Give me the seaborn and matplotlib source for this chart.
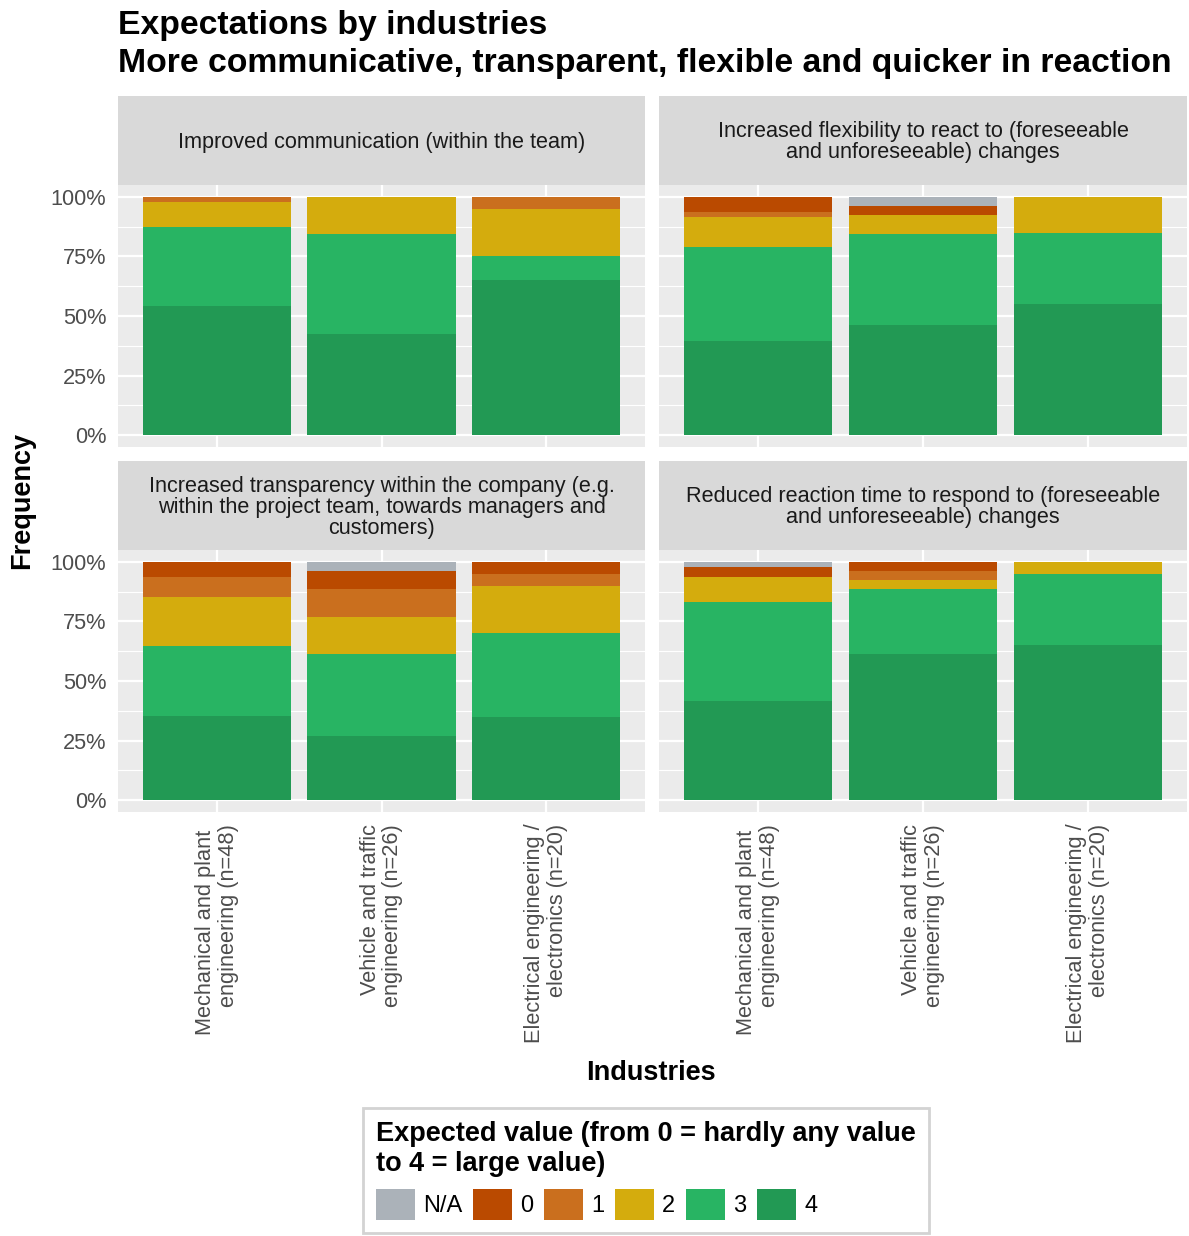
import pandas as pd
import matplotlib.pyplot as plt
import seaborn as sns
from matplotlib.patches import Patch

# ---------------- DATA ----------------
industries = ["Mechanical and plant \nengineering (n=48)",
              "Vehicle and traffic\nengineering (n=26)",
              "Electrical engineering /\nelectronics (n=20)"]
levels = ["N/A", "0", "1", "2", "3", "4"]
colors = ["#ABB2B9", "#BA4A00", "#CA6F1E", "#D4AC0D", "#28B463", "#229954"]

panel_titles = ["Improved communication (within the team)",
                "Increased flexibility to react to (foreseeable\nand unforeseeable) changes",
                "Increased transparency within the company (e.g.\nwithin the project team, towards managers and\ncustomers)",
                "Reduced reaction time to respond to (foreseeable\nand unforeseeable) changes"]

# counts per industry, order N/A,0,1,2,3,4
comm_counts = [[0, 0, 1, 5, 16, 26], [0, 0, 0, 4, 11, 11], [0, 0, 1, 4, 2, 13]]
flex_counts = [[0, 3, 1, 6, 19, 19], [1, 1, 0, 2, 10, 12], [0, 0, 0, 3, 6, 11]]
transp_counts = [[0, 3, 4, 10, 14, 17], [1, 2, 3, 4, 9, 7], [0, 1, 1, 4, 7, 7]]
react_counts = [[1, 2, 0, 5, 20, 20], [0, 1, 1, 1, 7, 16], [0, 0, 0, 1, 6, 13]]
all_counts = [comm_counts, flex_counts, transp_counts, react_counts]

y_ticks = [0, 0.25, 0.5, 0.75, 1.0]
y_ticklabels = ["0%", "25%", "50%", "75%", "100%"]
y_minor = [0.125, 0.375, 0.625, 0.875]

# ---------------- LONG FORMAT ----------------
rows = []
for p, counts in enumerate(all_counts):
    for ind, c in zip(industries, counts):
        tot = sum(c)
        for i, lev in enumerate(levels):
            # cumulative share from bottom (4) up to this level
            rows.append(dict(panel=p, industry=ind, value=lev, count=c[i],
                             cum=sum(c[i:]) / tot))
df = pd.DataFrame(rows)

# ---------------- PLOT ----------------
sns.set_style("white")
plt.rcParams["font.family"] = ["Liberation Sans", "DejaVu Sans"]
W, H = 1189, 1236
fig = plt.figure(figsize=(W / 100, H / 100), dpi=100)

def fx(px): return px / W
def fy(py): return 1 - py / H

cols = [(118, 645), (659, 1187)]
rows_px = [(96, 185, 447), (461, 550, 812)]
palette = dict(zip(levels, colors))

for p in range(4):
    r, c = divmod(p, 2)
    x0, x1 = cols[c]
    s0, s1, b1 = rows_px[r]
    ax = fig.add_axes([fx(x0), fy(b1), fx(x1) - fx(x0), fy(s1) - fy(b1)])
    sax = fig.add_axes([fx(x0), fy(s1), fx(x1) - fx(x0), fy(s0) - fy(s1)])
    sax.set_facecolor("#D9D9D9")
    sax.set_xticks([]); sax.set_yticks([])
    for sp in sax.spines.values():
        sp.set_visible(False)
    sax.text(0.5, 0.48, panel_titles[p], ha="center", va="center",
             fontsize=15.6, color="#1A1A1A", linespacing=1.0, transform=sax.transAxes)

    sub = df[df["panel"] == p]
    sns.barplot(data=sub, x="industry", y="cum", hue="value", hue_order=levels,
                order=industries, palette=palette, dodge=False, width=0.9,
                errorbar=None, saturation=1, linewidth=0, legend=False, ax=ax)
    ax.set_facecolor("#EBEBEB")
    ax.set_axisbelow(True)
    ax.set_xlim(-0.6, 2.6)
    ax.set_ylim(-0.05, 1.05)
    ax.set_yticks(y_ticks)
    ax.set_yticks(y_minor, minor=True)
    ax.grid(which="major", color="white", linewidth=1.6)
    ax.grid(which="minor", axis="y", color="white", linewidth=0.8)
    for sp in ax.spines.values():
        sp.set_visible(False)
    ax.set_xlabel(""); ax.set_ylabel("")
    ax.tick_params(axis="both", which="major", length=5, width=1.3, color="#333333",
                   labelcolor="#4D4D4D", labelsize=15.7)
    ax.tick_params(axis="y", which="minor", length=0)
    if c == 0:
        ax.set_yticklabels(y_ticklabels)
    else:
        ax.tick_params(axis="y", labelleft=False, length=0)
    if r == 1:
        ax.set_xticks(range(3))
        ax.set_xticklabels(industries, rotation=90, ha="center", va="top",
                           multialignment="right", linespacing=1.1)
    else:
        ax.tick_params(axis="x", labelbottom=False, length=0)

fig.text(fx(118), fy(10), "Expectations by industries\nMore communicative, transparent, flexible and quicker in reaction",
         ha="left", va="top", fontsize=24.3, fontweight="bold", linespacing=1.3, color="black")
fig.text(fx(22), fy(500), "Frequency", rotation=90, ha="center", va="center",
         fontsize=19.5, fontweight="bold", color="black")
fig.text(fx(651), fy(1073), "Industries", ha="center", va="center",
         fontsize=19.5, fontweight="bold", color="black")

handles = [Patch(facecolor=col, edgecolor="none", label=lev) for lev, col in zip(levels, colors)]
leg = fig.legend(handles=handles, ncol=6, loc="upper left",
                 bbox_to_anchor=(fx(363), fy(1108)), borderaxespad=0,
                 title="Expected value (from 0 = hardly any value\nto 4 = large value)",
                 title_fontproperties={"weight": "bold", "size": 19.5},
                 fontsize=17, handlelength=1.65, handleheight=1.65,
                 handletextpad=0.35, columnspacing=0.45, frameon=True, fancybox=False,
                 borderpad=0.55)
leg._legend_box.align = "left"
leg.get_title().set_color("black")
for t in leg.get_texts():
    t.set_color("black")
leg.get_frame().set_edgecolor("#C8C8C8")
leg.get_frame().set_linewidth(2)

fig.savefig("out.png", dpi=100)
